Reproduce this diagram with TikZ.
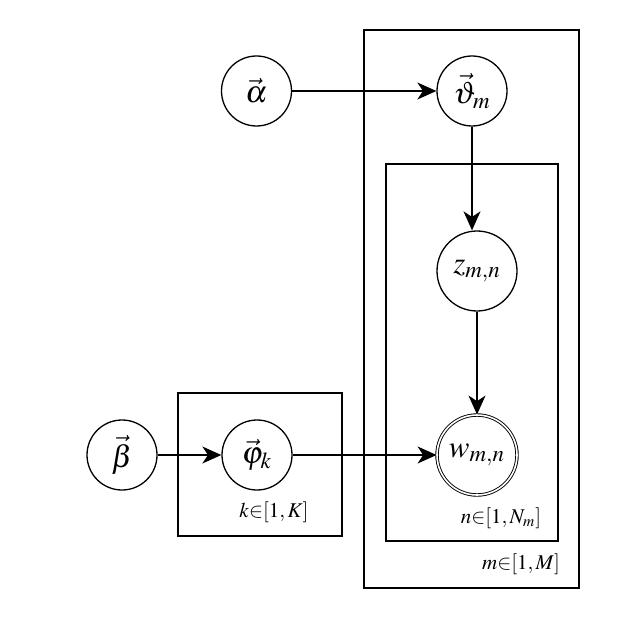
\documentclass[tikz,border=0pt]{standalone}
\usepackage{mathptmx}
\usetikzlibrary{arrows.meta}
\begin{document}
\begin{tikzpicture}[x=0.5pt,y=-0.5pt,
  var/.style={circle,draw,line width=0.65pt,minimum size=35pt,inner sep=0pt,font=\fontsize{15.5}{18}\selectfont},
  bigvar/.style={var,minimum size=40pt},
  obs/.style={bigvar,double,double distance=0.8pt,line width=0.45pt},
  plate/.style={draw,line width=0.65pt},
  lbl/.style={inner sep=0pt,font=\fontsize{10.5}{12}\selectfont},
  arr/.style={line width=0.65pt,-{Stealth[length=9.5pt,width=8.5pt,inset=2.8pt]}}]
\useasboundingbox (0,0) rectangle (635,625);
\draw[plate] (364,30) rectangle (579,588);
\draw[plate] (386,164) rectangle (558,541);
\draw[plate] (178,393) rectangle (342,536);
\node[var] (alpha) at (256.5,91) {$\vec{\alpha}$};
\node[var] (theta) at (472,91) {$\vec{\vartheta}_m$};
\node[bigvar] (z) at (477,271) {$z_{m,n}$};
\node[obs] (w) at (477,455) {$w_{m,n}$};
\node[var] (beta) at (122,455) {$\vec{\beta}$};
\node[var] (phi) at (257,455) {$\vec{\varphi}_k$};
\node[lbl] (klbl) at (274,512) {$k{\in}[1,K]$};
\node[lbl] (nlbl) at (501,518) {$n{\in}[1,N_m]$};
\node[lbl] (mlbl) at (521,564) {$m{\in}[1,M]$};
\draw[arr] (alpha) -- (theta);
\draw[arr] (theta) -- (theta |- z.north);
\draw[arr] (z) -- (w);
\draw[arr] (beta) -- (phi);
\draw[arr] (phi) -- (w);
\end{tikzpicture}
\end{document}
